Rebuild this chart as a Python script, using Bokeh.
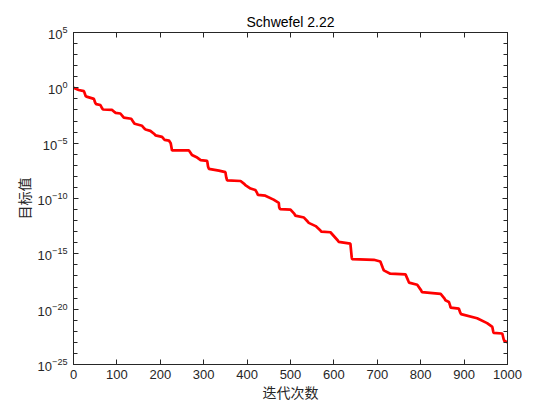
from bokeh.plotting import figure
from bokeh.models import FixedTicker, LinearAxis, LogAxis, Range1d
from bokeh.embed import file_html
from bokeh.resources import INLINE

# ---- data ----
iterations = [0, 12, 24, 28, 30, 47, 50, 52, 62, 66, 68, 89, 95, 97, 108, 114, 116,
              133, 139, 141, 158, 164, 166, 177, 187, 189, 204, 208, 210, 220, 224,
              227, 266, 270, 273, 285, 293, 308, 310, 312, 335, 350, 352, 354, 385,
              394, 396, 408, 419, 423, 425, 442, 461, 473, 474, 476, 500, 509, 511,
              531, 540, 542, 558, 569, 571, 592, 609, 611, 638, 641, 642, 692, 707,
              713, 715, 730, 765, 771, 773, 792, 801, 803, 846, 855, 857, 865, 868,
              869, 888, 891, 893, 930, 953, 965, 967, 968, 988, 991, 993, 1000]
objective = [1.0e0, 6.3e-1, 5.0e-1, 1.8e-1, 1.6e-1, 1.0e-1, 4.5e-2, 3.4e-2, 2.8e-2,
             1.4e-2, 1.1e-2, 1.0e-2, 6.3e-3, 5.5e-3, 4.8e-3, 2.5e-3, 2.0e-3, 1.6e-3,
             7.1e-4, 5.6e-4, 3.7e-4, 2.0e-4, 1.7e-4, 1.3e-4, 6.3e-5, 5.0e-5, 3.7e-5,
             2.4e-5, 2.0e-5, 1.7e-5, 1.0e-5, 2.2e-6, 2.2e-6, 1.3e-6, 8.5e-7, 5.0e-7,
             2.9e-7, 2.5e-7, 7.9e-8, 4.7e-8, 3.3e-8, 2.4e-8, 7.9e-9, 4.4e-9, 3.8e-9,
             2.0e-9, 1.6e-9, 7.9e-10, 5.9e-10, 3.2e-10, 2.1e-10, 1.8e-10, 7.9e-11,
             4.0e-11, 1.6e-11, 1.1e-11, 1.0e-11, 4.0e-12, 2.8e-12, 1.9e-12, 7.9e-13,
             6.3e-13, 3.2e-13, 1.3e-13, 1.0e-13, 8.9e-14, 1.6e-14, 1.2e-14, 8.5e-15,
             5.0e-16, 3.3e-16, 2.9e-16, 2.0e-16, 5.0e-17, 3.2e-17, 1.6e-17, 1.4e-17,
             4.0e-18, 2.5e-18, 1.6e-18, 5.0e-19, 3.4e-19, 2.4e-19, 8.9e-20, 6.3e-20,
             4.5e-20, 2.0e-20, 1.4e-20, 1.1e-20, 5.0e-21, 3.6e-21, 1.5e-21, 5.5e-22,
             2.5e-22, 1.0e-22, 7.2e-23, 6.3e-23, 2.0e-23, 1.3e-23, 1.0e-23]

x_ticks = [0, 100, 200, 300, 400, 500, 600, 700, 800, 900, 1000]
y_ticks = [1e-25, 1e-20, 1e-15, 1e-10, 1e-5, 1e0, 1e5]
y_minor = [10.0 ** k for k in range(-25, 6)]

title_text = "Schwefel 2.22"
x_label = "迭代次数"
y_label = "目标值"

AX = "#262626"
FONT = "Liberation Sans"
CJK = "Noto Sans CJK SC"

p = figure(width=544, height=404, x_range=Range1d(0, 1000),
           y_range=Range1d(1e-25, 1e5), y_axis_type="log",
           output_backend="svg", toolbar_location=None,
           min_border_left=73, min_border_right=37,
           min_border_top=32, min_border_bottom=38,
           background_fill_color="white", border_fill_color="white")

p.line(iterations, objective, line_color="#ff0000", line_width=2.7)

p.title.text = title_text
p.title.align = "center"
p.title.text_font = FONT
p.title.text_font_size = "14px"
p.title.text_font_style = "normal"
p.title.text_color = "black"
p.title.standoff = 5

p.grid.visible = False
p.outline_line_color = AX
p.outline_line_width = 1

xa = p.below[0]
ya = p.left[0]
xa.ticker = FixedTicker(ticks=x_ticks, minor_ticks=[])
ya.ticker = FixedTicker(ticks=y_ticks, minor_ticks=y_minor)

top = LinearAxis(ticker=FixedTicker(ticks=x_ticks, minor_ticks=[]))
right = LogAxis(ticker=FixedTicker(ticks=y_ticks, minor_ticks=y_minor))
p.add_layout(top, "above")
p.add_layout(right, "right")

for ax in [xa, ya, top, right]:
    ax.axis_line_color = AX
    ax.major_tick_line_color = AX
    ax.minor_tick_line_color = AX
    ax.major_tick_in = 5
    ax.major_tick_out = 0
    ax.minor_tick_in = 4
    ax.minor_tick_out = 0
    ax.major_label_text_font = FONT
    ax.major_label_text_font_size = "13px"
    ax.major_label_text_color = AX

for ax in [top, right]:
    ax.major_label_text_font_size = "1px"
    ax.major_label_text_alpha = 0
    ax.major_label_standoff = 0

xa.major_label_standoff = 5
xa.axis_label = x_label
xa.axis_label_text_font = CJK
xa.axis_label_text_font_size = "14px"
xa.axis_label_text_font_style = "normal"
xa.axis_label_text_color = AX
xa.axis_label_standoff = 0

ya.major_label_standoff = 6
ya.axis_label = y_label
ya.axis_label_text_font = CJK
ya.axis_label_text_font_size = "14px"
ya.axis_label_text_font_style = "normal"
ya.axis_label_text_color = AX
ya.axis_label_standoff = 1

open("out.html", "w").write(file_html(p, INLINE))
